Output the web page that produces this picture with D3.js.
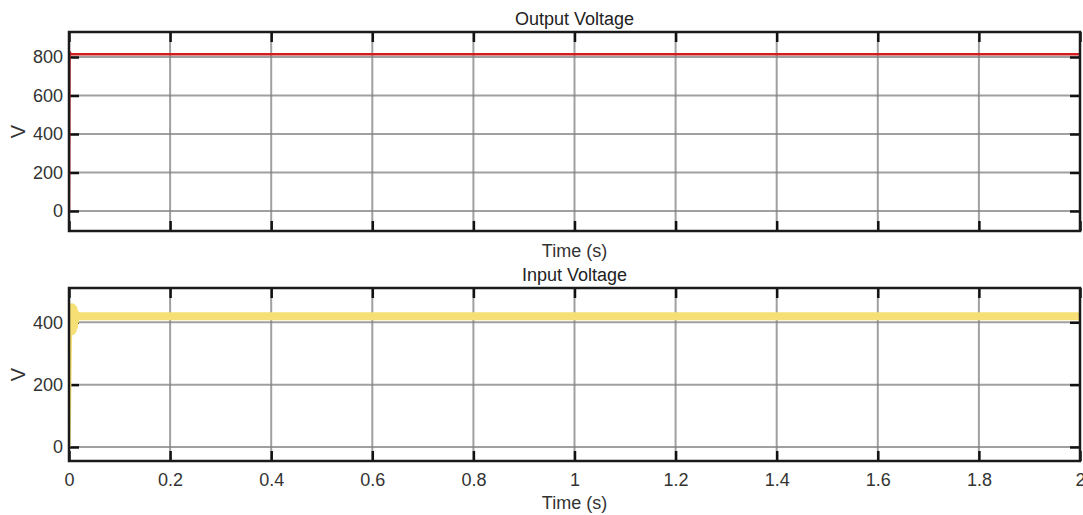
<!DOCTYPE html>
<html>
<head>
<meta charset="utf-8">
<script src="https://cdn.jsdelivr.net/npm/d3@7"></script>
<style>
  body { margin: 0; background: #fff; }
  svg { font-family: "Liberation Sans", Arial, sans-serif; }
  .tick text { fill: #333; font-size: 18px; }
</style>
</head>
<body>
<svg width="1083" height="515"></svg>
<script>
// x ticks shared by both panels
var xTicks = [0, 0.2, 0.4, 0.6, 0.8, 1, 1.2, 1.4, 1.6, 1.8, 2];

// output voltage (red)
var outTime = [0, 0.0005, 0.001, 0.002, 0.004, 2];
var outVolt = [0, 400, 815, 822, 815, 815];
var outTicks = [0, 200, 400, 600, 800];

// input voltage (yellow) - fast rise, short ringing, then steady
var inRiseTime = [0, 0.001, 0.002, 0.003, 0.004];
var inRiseVolt = [0, 90, 220, 340, 380];
var inTime = [0.004, 0.005, 0.006, 0.007, 0.008, 0.009, 0.010, 0.011, 0.012, 0.014, 0.016, 2];
var inVolt = [380, 448, 372, 446, 378, 442, 388, 432, 404, 424, 419, 419];
var inTicks = [0, 200, 400];

var svg = d3.select("svg");
var left = 69, right = 1080;

var xScale = d3.scaleLinear().domain([0, 2]).range([left, right]);

function panel(top, bottom, yDomain, yTicks, title, showXLabels) {
  var y = d3.scaleLinear().domain(yDomain).range([bottom, top]);
  var g = svg.append("g");

  // grid
  g.selectAll(".vg").data(xTicks.slice(1, -1)).enter().append("line")
    .attr("x1", d => xScale(d)).attr("x2", d => xScale(d))
    .attr("y1", top).attr("y2", bottom)
    .attr("stroke", "#808080").attr("stroke-opacity", 0.75).attr("stroke-width", 2);
  g.selectAll(".hg").data(yTicks).enter().append("line")
    .attr("x1", left).attr("x2", right)
    .attr("y1", d => y(d)).attr("y2", d => y(d))
    .attr("stroke", "#808080").attr("stroke-opacity", 0.75).attr("stroke-width", 2);

  // axes with inward ticks
  var yAx = g.append("g").attr("transform", `translate(${left},0)`)
    .call(d3.axisLeft(y).tickValues(yTicks).tickSizeInner(-10).tickSizeOuter(0).tickPadding(6));
  var yAxR = g.append("g").attr("transform", `translate(${right},0)`)
    .call(d3.axisRight(y).tickValues(yTicks).tickSizeInner(-10).tickSizeOuter(0).tickFormat(""));
  var xAxB = g.append("g").attr("transform", `translate(0,${bottom})`)
    .call(d3.axisBottom(xScale).tickValues(xTicks).tickSizeInner(-10).tickSizeOuter(0).tickPadding(12)
      .tickFormat(showXLabels ? d3.format("") : ""));
  var xAxT = g.append("g").attr("transform", `translate(0,${top})`)
    .call(d3.axisTop(xScale).tickValues(xTicks).tickSizeInner(-10).tickSizeOuter(0).tickFormat(""));
  [yAx, yAxR, xAxB, xAxT].forEach(function (a) {
    a.select(".domain").remove();
    a.selectAll(".tick line").attr("stroke", "#111").attr("stroke-width", 2.5);
  });

  // labels
  svg.append("text").attr("x", (left + right) / 2).attr("y", top - 7)
    .attr("text-anchor", "middle").attr("font-size", 18).attr("fill", "#222").text(title);
  svg.append("text").attr("x", (left + right) / 2).attr("y", bottom + (showXLabels ? 48 : 26))
    .attr("text-anchor", "middle").attr("font-size", 18).attr("fill", "#333").text("Time (s)");
  svg.append("text")
    .attr("transform", `translate(25,${(top + bottom) / 2}) rotate(-90)`)
    .attr("text-anchor", "middle").attr("font-size", 20).attr("fill", "#333").text("V");

  return { g: g, y: y, top: top, bottom: bottom };
}

var p1 = panel(32, 231, [-104, 930], outTicks, "Output Voltage", false);
var p2 = panel(288, 461, [-45, 510], inTicks, "Input Voltage", true);

// clip to plot areas
function clip(id, p) {
  svg.append("clipPath").attr("id", id).append("rect")
    .attr("x", left).attr("y", p.top).attr("width", right - left).attr("height", p.bottom - p.top);
}
clip("c1", p1);
clip("c2", p2);

var line1 = d3.line().x((d, i) => xScale(outTime[i])).y(d => p1.y(d));
svg.append("path").attr("clip-path", "url(#c1)")
  .attr("d", line1(outVolt))
  .attr("fill", "none").attr("stroke", "#cf1d20").attr("stroke-width", 2.5);

var lineRise = d3.line().x((d, i) => xScale(inRiseTime[i])).y(d => p2.y(d));
svg.append("path").attr("clip-path", "url(#c2)")
  .attr("d", lineRise(inRiseVolt))
  .attr("fill", "none").attr("stroke", "#f6e076").attr("stroke-width", 3);

var line2 = d3.line().x((d, i) => xScale(inTime[i])).y(d => p2.y(d));
svg.append("path").attr("clip-path", "url(#c2)")
  .attr("d", line2(inVolt))
  .attr("fill", "none").attr("stroke", "#f6e076").attr("stroke-width", 8)
  .attr("stroke-linejoin", "round");

// frames
[p1, p2].forEach(function (p) {
  svg.append("rect").attr("x", left).attr("y", p.top)
    .attr("width", right - left).attr("height", p.bottom - p.top)
    .attr("fill", "none").attr("stroke", "#1a1a1a").attr("stroke-width", 2.5);
});
</script>
</body>
</html>
